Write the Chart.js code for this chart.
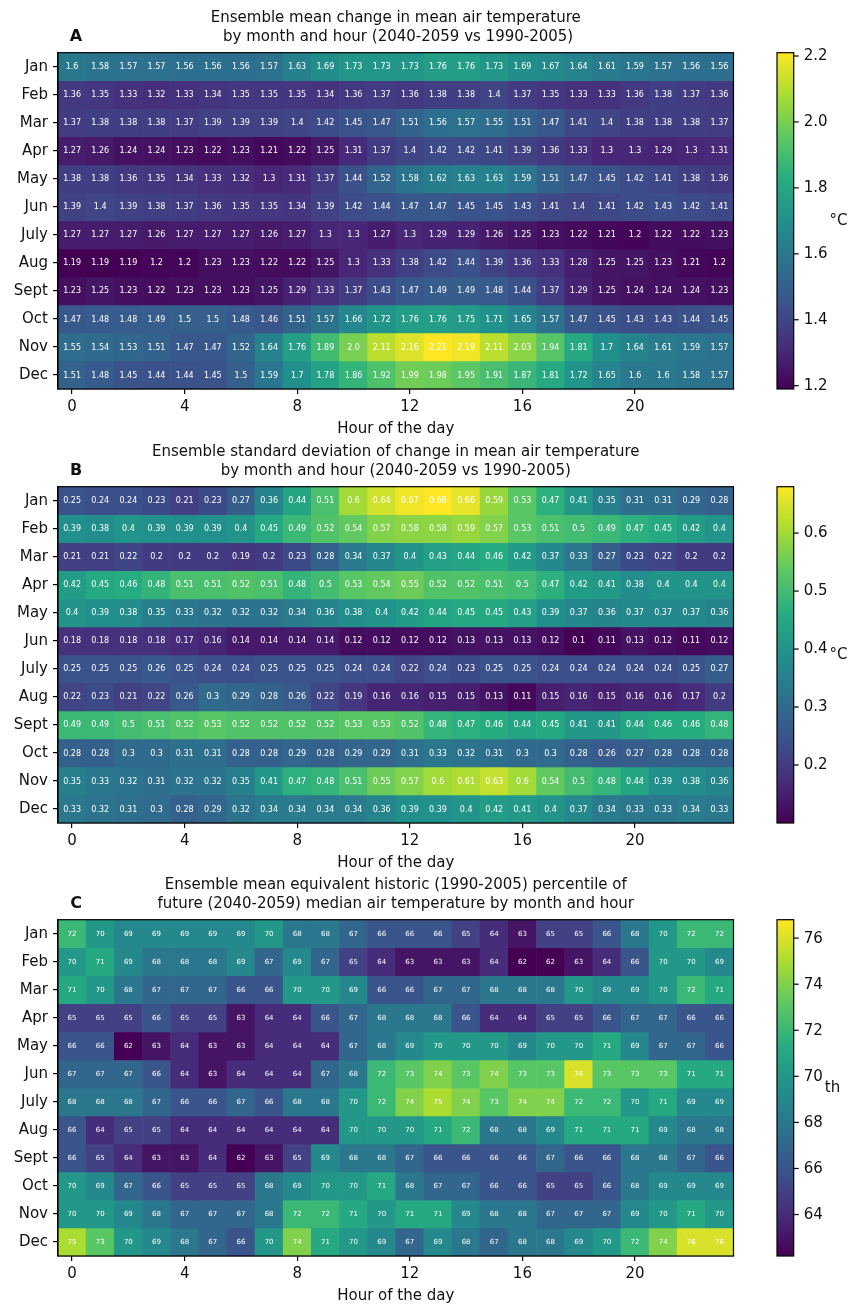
<!DOCTYPE html>
<html><head><meta charset="utf-8">
<script src="https://cdn.jsdelivr.net/npm/chart.js@4.4.1/dist/chart.umd.min.js"></script>
<style>
html,body{margin:0;padding:0;background:#fff;}
#wrap{position:relative;width:858px;height:1309px;overflow:hidden;background:#fff;}
canvas{position:absolute;left:0;}
</style></head><body>
<div id="wrap">
<canvas id="cA" width="858" height="438" style="top:0px"></canvas>
<canvas id="cB" width="858" height="438" style="top:434px"></canvas>
<canvas id="cC" width="858" height="438" style="top:867px"></canvas>
</div>
<script>
const months = ['Jan','Feb','Mar','Apr','May','Jun','July','Aug','Sept','Oct','Nov','Dec'];
const hours = ['0','1','2','3','4','5','6','7','8','9','10','11','12','13','14','15','16','17','18','19','20','21','22','23'];
const hourTickLabels = ['0','4','8','12','16','20'];

const meanChange = [
 [1.6,1.58,1.57,1.57,1.56,1.56,1.56,1.57,1.63,1.69,1.73,1.73,1.73,1.76,1.76,1.73,1.69,1.67,1.64,1.61,1.59,1.57,1.56,1.56],
 [1.36,1.35,1.33,1.32,1.33,1.34,1.35,1.35,1.35,1.34,1.36,1.37,1.36,1.38,1.38,1.4,1.37,1.35,1.33,1.33,1.36,1.38,1.37,1.36],
 [1.37,1.38,1.38,1.38,1.37,1.39,1.39,1.39,1.4,1.42,1.45,1.47,1.51,1.56,1.57,1.55,1.51,1.47,1.41,1.4,1.38,1.38,1.38,1.37],
 [1.27,1.26,1.24,1.24,1.23,1.22,1.23,1.21,1.22,1.25,1.31,1.37,1.4,1.42,1.42,1.41,1.39,1.36,1.33,1.3,1.3,1.29,1.3,1.31],
 [1.38,1.38,1.36,1.35,1.34,1.33,1.32,1.3,1.31,1.37,1.44,1.52,1.58,1.62,1.63,1.63,1.59,1.51,1.47,1.45,1.42,1.41,1.38,1.36],
 [1.39,1.4,1.39,1.38,1.37,1.36,1.35,1.35,1.34,1.39,1.42,1.44,1.47,1.47,1.45,1.45,1.43,1.41,1.4,1.41,1.42,1.43,1.42,1.41],
 [1.27,1.27,1.27,1.26,1.27,1.27,1.27,1.26,1.27,1.3,1.3,1.27,1.3,1.29,1.29,1.26,1.25,1.23,1.22,1.21,1.2,1.22,1.22,1.23],
 [1.19,1.19,1.19,1.2,1.2,1.23,1.23,1.22,1.22,1.25,1.3,1.33,1.38,1.42,1.44,1.39,1.36,1.33,1.28,1.25,1.25,1.23,1.21,1.2],
 [1.23,1.25,1.23,1.22,1.23,1.23,1.23,1.25,1.29,1.33,1.37,1.43,1.47,1.49,1.49,1.48,1.44,1.37,1.29,1.25,1.24,1.24,1.24,1.23],
 [1.47,1.48,1.48,1.49,1.5,1.5,1.48,1.46,1.51,1.57,1.66,1.72,1.76,1.76,1.75,1.71,1.65,1.57,1.47,1.45,1.43,1.43,1.44,1.45],
 [1.55,1.54,1.53,1.51,1.47,1.47,1.52,1.64,1.76,1.89,2.0,2.11,2.16,2.21,2.19,2.11,2.03,1.94,1.81,1.7,1.64,1.61,1.59,1.57],
 [1.51,1.48,1.45,1.44,1.44,1.45,1.5,1.59,1.7,1.78,1.86,1.92,1.99,1.98,1.95,1.91,1.87,1.81,1.72,1.65,1.6,1.6,1.58,1.57]
];
const stdChange = [
 [0.25,0.24,0.24,0.23,0.21,0.23,0.27,0.36,0.44,0.51,0.6,0.64,0.67,0.68,0.66,0.59,0.53,0.47,0.41,0.35,0.31,0.31,0.29,0.28],
 [0.39,0.38,0.4,0.39,0.39,0.39,0.4,0.45,0.49,0.52,0.54,0.57,0.58,0.58,0.59,0.57,0.53,0.51,0.5,0.49,0.47,0.45,0.42,0.4],
 [0.21,0.21,0.22,0.2,0.2,0.2,0.19,0.2,0.23,0.28,0.34,0.37,0.4,0.43,0.44,0.46,0.42,0.37,0.33,0.27,0.23,0.22,0.2,0.2],
 [0.42,0.45,0.46,0.48,0.51,0.51,0.52,0.51,0.48,0.5,0.53,0.54,0.55,0.52,0.52,0.51,0.5,0.47,0.42,0.41,0.38,0.4,0.4,0.4],
 [0.4,0.39,0.38,0.35,0.33,0.32,0.32,0.32,0.34,0.36,0.38,0.4,0.42,0.44,0.45,0.45,0.43,0.39,0.37,0.36,0.37,0.37,0.37,0.36],
 [0.18,0.18,0.18,0.18,0.17,0.16,0.14,0.14,0.14,0.14,0.12,0.12,0.12,0.12,0.13,0.13,0.13,0.12,0.1,0.11,0.13,0.12,0.11,0.12],
 [0.25,0.25,0.25,0.26,0.25,0.24,0.24,0.25,0.25,0.25,0.24,0.24,0.22,0.24,0.23,0.25,0.25,0.24,0.24,0.24,0.24,0.24,0.25,0.27],
 [0.22,0.23,0.21,0.22,0.26,0.3,0.29,0.28,0.26,0.22,0.19,0.16,0.16,0.15,0.15,0.13,0.11,0.15,0.16,0.15,0.16,0.16,0.17,0.2],
 [0.49,0.49,0.5,0.51,0.52,0.53,0.52,0.52,0.52,0.52,0.53,0.53,0.52,0.48,0.47,0.46,0.44,0.45,0.41,0.41,0.44,0.46,0.46,0.48],
 [0.28,0.28,0.3,0.3,0.31,0.31,0.28,0.28,0.29,0.28,0.29,0.29,0.31,0.33,0.32,0.31,0.3,0.3,0.28,0.26,0.27,0.28,0.28,0.28],
 [0.35,0.33,0.32,0.31,0.32,0.32,0.35,0.41,0.47,0.48,0.51,0.55,0.57,0.6,0.61,0.63,0.6,0.54,0.5,0.48,0.44,0.39,0.38,0.36],
 [0.33,0.32,0.31,0.3,0.28,0.29,0.32,0.34,0.34,0.34,0.34,0.36,0.39,0.39,0.4,0.42,0.41,0.4,0.37,0.34,0.33,0.33,0.34,0.33]
];
const percentile = [
 [72,70,69,69,69,69,69,70,68,68,67,66,66,66,65,64,63,65,65,66,68,70,72,72],
 [70,71,69,68,68,68,69,67,69,67,65,64,63,63,63,64,62,62,63,64,66,70,70,69],
 [71,70,68,67,67,67,66,66,70,70,69,66,66,67,67,68,68,68,70,69,69,70,72,71],
 [65,65,65,66,65,65,63,64,64,66,67,68,68,68,66,64,64,65,65,66,67,67,66,66],
 [66,66,62,63,64,63,63,64,64,64,67,68,69,70,70,70,69,70,70,71,69,67,67,66],
 [67,67,67,66,64,63,64,64,64,67,68,72,73,74,73,74,73,73,76,73,73,73,71,71],
 [68,68,68,67,66,66,67,66,68,68,70,72,74,75,74,73,74,74,72,72,70,71,69,69],
 [66,64,65,65,64,64,64,64,64,64,70,70,70,71,72,68,68,69,71,71,71,69,68,68],
 [66,65,64,63,63,64,62,63,65,69,68,68,67,66,66,66,66,67,66,66,68,68,67,66],
 [70,69,67,66,65,65,65,68,69,70,70,71,68,67,67,66,66,65,65,66,68,69,69,69],
 [70,70,69,68,67,67,67,68,72,72,71,70,71,71,69,68,68,67,67,67,69,70,71,70],
 [75,73,70,69,68,67,66,70,74,71,70,69,67,69,68,67,68,68,69,70,72,74,76,76]
];
const cbTicksA = [1.2,1.4,1.6,1.8,2.0,2.2];
const cbTicksB = [0.2,0.3,0.4,0.5,0.6];
const cbTicksC = [64,66,68,70,72,74,76];

const F = "'DejaVu Sans', sans-serif";
const VIR = [[68,1,84],[71,45,123],[59,82,139],[44,114,142],[33,144,140],[39,173,129],[93,200,99],[170,220,50],[253,231,37]];
function viridis(t){
  t = Math.max(0, Math.min(1, t));
  const n = VIR.length - 1, f = t * n;
  const i = Math.min(n - 1, Math.floor(f)), u = f - i;
  const a = VIR[i], b = VIR[i+1];
  return 'rgb(' + [0,1,2].map(k => Math.round(a[k] + (b[k]-a[k])*u)).join(',') + ')';
}
const fmt2 = v => Number.isInteger(v) ? v.toFixed(1) : String(v);
const fmtInt = v => String(v);

const heatPlugin = {
  id: 'heat',
  afterDatasetsDraw(chart, args, o) {
    const ctx = chart.ctx, ca = chart.chartArea;
    ctx.save();
    ctx.fillStyle = '#ffffff';
    ctx.font = o.cellFont + 'px ' + F;
    ctx.textAlign = 'center';
    ctx.textBaseline = 'middle';
    chart.data.datasets.forEach((ds, di) => {
      const meta = chart.getDatasetMeta(di);
      meta.data.forEach((el, i) => {
        const p = el.getProps(['x','y','base'], true);
        ctx.fillText(o.fmt(o.values[di][i]), p.x, (p.y + p.base) / 2 + 0.5);
      });
    });
    ctx.strokeStyle = '#000';
    ctx.lineWidth = 1.2;
    ctx.strokeRect(ca.left, ca.top, ca.right - ca.left, ca.bottom - ca.top);
    ctx.restore();
  },
  afterDraw(chart, args, o) {
    const ctx = chart.ctx, ca = chart.chartArea;
    ctx.save();
    const cx = (ca.left + ca.right) / 2;
    ctx.fillStyle = '#111';
    ctx.textAlign = 'center';
    ctx.textBaseline = 'middle';
    ctx.font = '15px ' + F;
    ctx.fillText(o.title[0], cx, ca.top - 34.5);
    ctx.fillText(o.title[1], cx, ca.top - 16);
    ctx.font = 'bold 16px ' + F;
    ctx.fillText(o.letter, 76, ca.top - 16);
    const cb = chart.scales.cb;
    const top = cb.getPixelForValue(cb.max), bot = cb.getPixelForValue(cb.min);
    const x0 = ca.right + 43.5, w = 16.7;
    const g = ctx.createLinearGradient(0, bot, 0, top);
    VIR.forEach((c, i) => g.addColorStop(i / (VIR.length - 1), 'rgb(' + c.join(',') + ')'));
    ctx.fillStyle = g;
    ctx.fillRect(x0, top, w, bot - top);
    ctx.strokeStyle = '#000';
    ctx.lineWidth = 1.2;
    ctx.strokeRect(x0, top, w, bot - top);
    ctx.font = '15px ' + F;
    ctx.textAlign = 'left';
    ctx.fillStyle = '#111';
    let maxW = 0;
    cb.ticks.forEach(t => {
      const y = cb.getPixelForValue(t.value);
      ctx.beginPath();
      ctx.moveTo(x0 + w, y); ctx.lineTo(x0 + w + 5, y);
      ctx.stroke();
      const s = o.cbFmt(t.value);
      maxW = Math.max(maxW, ctx.measureText(s).width);
      ctx.fillText(s, x0 + w + 10, y + 0.5);
    });
    ctx.fillText(o.unit, x0 + w + 10 + maxW + 2, (top + bot) / 2);
    ctx.restore();
  }
};

function makeHeat(id, values, vmin, vmax, cbTicks, opts) {
  const datasets = values.map((row, m) => ({
    label: months[m],
    data: row.map(() => [m - 0.5, m + 0.5]),
    backgroundColor: row.map(v => viridis((v - vmin) / (vmax - vmin))),
    borderWidth: 0,
    barPercentage: 1,
    categoryPercentage: 1,
    grouped: false
  }));
  return new Chart(document.getElementById(id), {
    type: 'bar',
    data: { labels: hours, datasets },
    plugins: [heatPlugin],
    options: {
      responsive: false,
      animation: false,
      devicePixelRatio: 1,
      events: [],
      layout: { padding: { top: 52.7, right: 124.5, left: 0, bottom: 0 } },
      plugins: {
        legend: { display: false },
        tooltip: { enabled: false },
        heat: Object.assign({ values }, opts)
      },
      scales: {
        x: {
          type: 'category',
          offset: true,
          grid: {
            offset: false,
            drawOnChartArea: false, drawTicks: true, tickLength: 5, lineWidth: 1.2,
            color: c => hourTickLabels.includes(hours[c.index]) ? '#000' : 'rgba(0,0,0,0)'
          },
          border: { display: true, color: '#000', width: 1.2 },
          ticks: {
            autoSkip: false, maxRotation: 0, minRotation: 0, padding: 4, color: '#111',
            font: { family: F, size: 15 },
            callback: (v, i) => hourTickLabels.includes(hours[i]) ? hours[i] : ''
          },
          title: { display: true, text: 'Hour of the day', color: '#111', font: { family: F, size: 15 }, padding: 0 },
          afterFit: s => { s.height = 49; }
        },
        y: {
          type: 'linear',
          reverse: true,
          min: -0.5,
          max: 11.5,
          afterBuildTicks: s => { s.ticks = months.map((_, i) => ({ value: i })); },
          ticks: {
            autoSkip: false, padding: 5, color: '#111',
            font: { family: F, size: 15 },
            callback: v => months[v]
          },
          grid: { drawOnChartArea: false, drawTicks: true, tickLength: 5, color: '#000', lineWidth: 1.2 },
          border: { display: true, color: '#000', width: 1.2 },
          afterFit: s => { s.width = 58; }
        },
        cb: {
          type: 'linear',
          position: 'right',
          display: false,
          min: vmin,
          max: vmax,
          afterBuildTicks: s => { s.ticks = cbTicks.map(v => ({ value: v })); }
        }
      }
    }
  });
}

makeHeat('cA', meanChange, 1.19, 2.21, cbTicksA, {
  title: ['Ensemble mean change in mean air temperature', ' by month and hour (2040-2059 vs 1990-2005)'],
  letter: 'A', unit: '°C', cellFont: 8, fmt: fmt2, cbFmt: v => v.toFixed(1)
});
makeHeat('cB', stdChange, 0.10, 0.68, cbTicksB, {
  title: ['Ensemble standard deviation of change in mean air temperature', 'by month and hour (2040-2059 vs 1990-2005)'],
  letter: 'B', unit: '°C', cellFont: 8, fmt: fmt2, cbFmt: v => v.toFixed(1)
});
makeHeat('cC', percentile, 62.2, 76.8, cbTicksC, {
  title: ['Ensemble mean equivalent historic (1990-2005) percentile of', 'future (2040-2059) median air temperature by month and hour'],
  letter: 'C', unit: 'th', cellFont: 7, fmt: fmtInt, cbFmt: v => String(v)
});
</script>
</body></html>
